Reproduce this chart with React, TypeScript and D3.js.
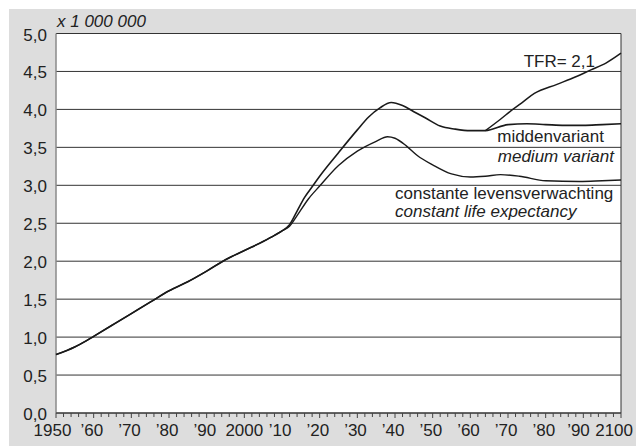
import React from "react";
import * as d3 from "d3";

const histYears = [1950, 1955, 1958, 1960, 1965, 1970, 1975, 1980, 1985, 1990, 1995, 2000, 2005, 2008, 2010, 2012];
const histValues = [0.77, 0.87, 0.95, 1.01, 1.16, 1.31, 1.46, 1.61, 1.73, 1.87, 2.02, 2.14, 2.26, 2.34, 2.4, 2.48];

const mediumYears = [2012, 2014, 2016, 2018, 2020, 2025, 2030, 2033, 2036, 2039, 2042, 2045, 2048, 2052, 2056, 2060, 2064, 2070, 2075, 2080, 2085, 2090, 2095, 2100];
const mediumValues = [2.48, 2.66, 2.84, 2.98, 3.12, 3.43, 3.73, 3.9, 4.02, 4.09, 4.05, 3.97, 3.89, 3.78, 3.74, 3.72, 3.72, 3.8, 3.81, 3.8, 3.79, 3.79, 3.8, 3.81];

const constantYears = [2012, 2014, 2017, 2020, 2025, 2030, 2035, 2038, 2040, 2043, 2046, 2050, 2055, 2060, 2064, 2068, 2073, 2080, 2089, 2095, 2100];
const constantValues = [2.46, 2.6, 2.82, 2.99, 3.26, 3.45, 3.58, 3.64, 3.62, 3.52, 3.39, 3.27, 3.15, 3.11, 3.12, 3.14, 3.12, 3.06, 3.05, 3.06, 3.07];

const tfrYears = [2064, 2068, 2071, 2074, 2077, 2083, 2088, 2092, 2096, 2100];
const tfrValues = [3.72, 3.87, 3.99, 4.1, 4.21, 4.33, 4.43, 4.52, 4.61, 4.74];

const yTicks = [0, 0.5, 1, 1.5, 2, 2.5, 3, 3.5, 4, 4.5, 5];
const xTickYears = [1950, 1960, 1970, 1980, 1990, 2000, 2010, 2020, 2030, 2040, 2050, 2060, 2070, 2080, 2090, 2100];
const xTickLabels = ["1950", "’60", "’70", "’80", "’90", "2000", "’10", "’20", "’30", "’40", "’50", "’60", "’70", "’80", "’90", "2100"];

const W = 636;
const H = 446;
const L = 56, R = 621, T = 33.5, B = 413;
const FONT = "'Liberation Sans', Arial, sans-serif";

export default function App() {
  const x = d3.scaleLinear().domain([1950, 2100]).range([L, R]);
  const y = d3.scaleLinear().domain([0, 5]).range([B, T]);
  const line = d3
    .line<[number, number]>()
    .x((d) => x(d[0]))
    .y((d) => y(d[1]))
    .curve(d3.curveMonotoneX);

  const zip = (ys: number[], vs: number[]) => ys.map((yr, i) => [yr, vs[i]] as [number, number]);
  const hist = zip(histYears, histValues);
  const medium = hist.concat(zip(mediumYears, mediumValues).slice(1));
  const constant = hist.slice(0, -1).concat(zip(constantYears, constantValues));
  const tfr = zip(tfrYears, tfrValues);

  const minorTicks = d3.range(1950, 2101, 2);
  const fmt = (v: number) => v.toFixed(1).replace(".", ",");

  const xLabelProps = (yr: number, label: string) => {
    if (yr === 1950) return { x: x(yr) - 3.5, anchor: "middle" };
    if (yr === 2100) return { x: 633, anchor: "end" };
    if (label.startsWith("’")) return { x: x(yr) + (yr === 2090 ? 6.5 : 9.5), anchor: "end" };
    return { x: x(yr), anchor: "middle" };
  };

  return (
    <svg
      width={W}
      height={H}
      style={{ position: "absolute", left: 0, top: 0, display: "block" }}
      fontFamily={FONT}
    >
      <rect x={0} y={0} width={W} height={H} fill="#ffffff" />
      <rect x={9} y={9} width={W - 9} height={H - 9} fill="#dddddd" />
      <rect x={L} y={T} width={R - L} height={B - T} fill="#ffffff" />
      {yTicks.map((t) => (
        <line key={"g" + t} x1={L} x2={R} y1={y(t)} y2={y(t)} stroke="#333" strokeWidth={1} />
      ))}
      <line x1={R} x2={R} y1={T} y2={B} stroke="#333" strokeWidth={1} />
      <line x1={L} x2={L} y1={T} y2={B} stroke="#8a8a8a" strokeWidth={1.5} />
      <line x1={L} x2={R} y1={B} y2={B} stroke="#333" strokeWidth={1} />
      {minorTicks.map((yr) => (
        <line
          key={"t" + yr}
          x1={x(yr)}
          x2={x(yr)}
          y1={B}
          y2={B + (yr % 10 === 0 ? 5 : 4)}
          stroke="#444"
          strokeWidth={1}
        />
      ))}
      {yTicks.map((t) => (
        <text key={"yl" + t} x={47} y={y(t) + (t === 0 ? 6.5 : 7)} textAnchor="end" fontSize={17} fill="#222">
          {fmt(t)}
        </text>
      ))}
      {xTickYears.map((yr, i) => {
        const p = xLabelProps(yr, xTickLabels[i]);
        return (
          <text key={"xl" + yr} x={p.x} y={435.5} textAnchor={p.anchor} fontSize={17} fill="#222">
            {xTickLabels[i]}
          </text>
        );
      })}
      <text x={57} y={27} fontSize={17} fontStyle="italic" fill="#222">
        x 1 000 000
      </text>

      <path d={line(constant) || ""} fill="none" stroke="#1a1a1a" strokeWidth={1.4} />
      <path d={line(tfr) || ""} fill="none" stroke="#1a1a1a" strokeWidth={1.5} />
      <path d={line(medium) || ""} fill="none" stroke="#1a1a1a" strokeWidth={1.6} />

      <text x={595} y={67} textAnchor="end" fontSize={17} fill="#222">TFR= 2,1</text>
      <text x={604} y={142} textAnchor="end" fontSize={17} fill="#222">middenvariant</text>
      <text x={614} y={162} textAnchor="end" fontSize={17} fontStyle="italic" fill="#222">medium variant</text>
      <text x={395} y={198.5} fontSize={17} fill="#222">constante levensverwachting</text>
      <text x={395} y={217} fontSize={17} fontStyle="italic" fill="#222">constant life expectancy</text>
    </svg>
  );
}
